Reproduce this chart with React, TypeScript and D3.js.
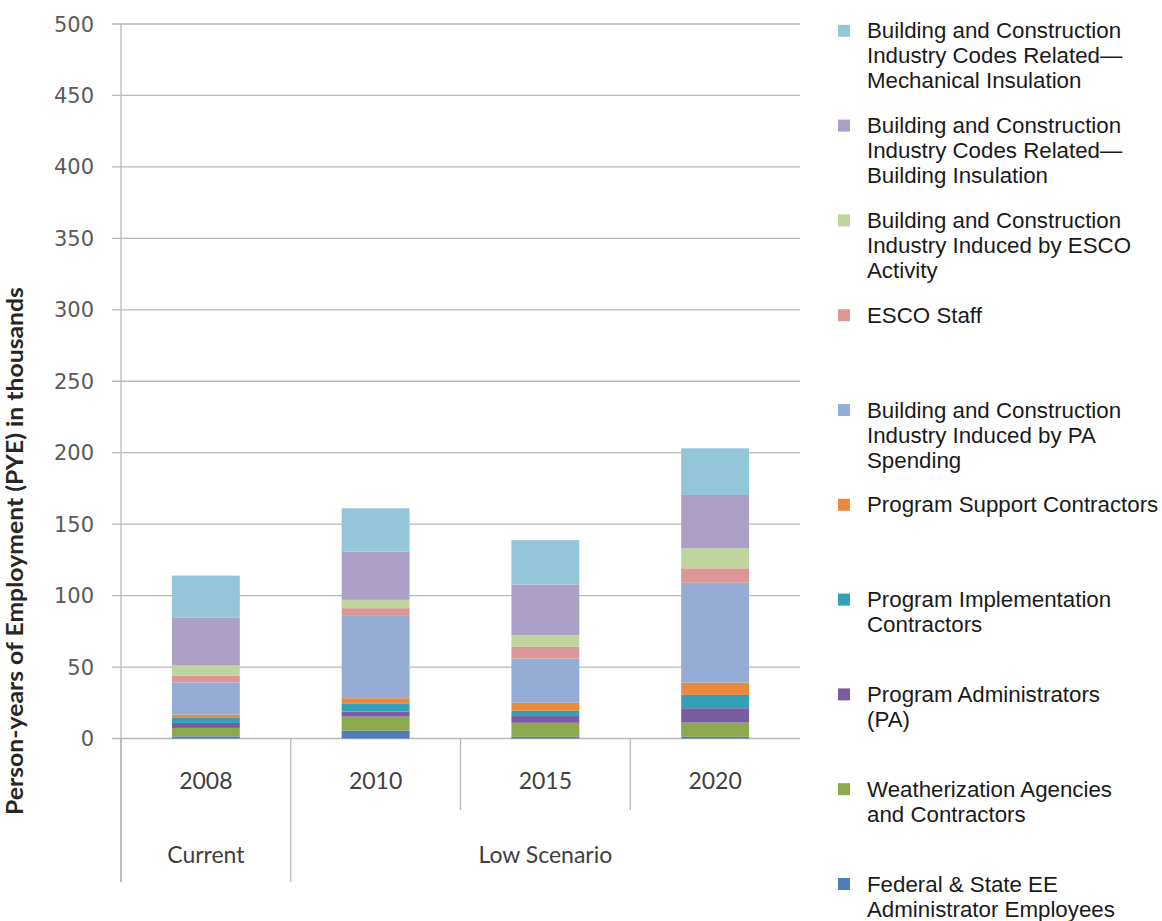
import React from "react";
import * as d3 from "d3";

const categories = ["2008", "2010", "2015", "2020"];
const groups = [
  { label: "Current", from: 0, to: 1 },
  { label: "Low Scenario", from: 1, to: 4 },
];
const yTicks = [0, 50, 100, 150, 200, 250, 300, 350, 400, 450, 500];

// series (bottom to top), values per category in thousands
const federal = [1.5, 5.5, 1.2, 1.2];
const weatherization = [5.9, 9.8, 9.8, 9.9];
const programAdmins = [3.5, 3.5, 4.7, 10.1];
const implContractors = [3.5, 5.4, 3.7, 9.3];
const supportContractors = [2.3, 4, 5.6, 8.6];
const paSpending = [22.6, 57.6, 31, 69.9];
const escoStaff = [4.7, 5.4, 8.1, 10.1];
const escoInduced = [7, 5.8, 8.2, 14];
const buildingInsulation = [33.8, 33.8, 35.5, 37.3];
const mechanicalInsulation = [29.2, 30.3, 31, 32.7];

const seriesKeys = [
  "federal",
  "weatherization",
  "programAdmins",
  "implContractors",
  "supportContractors",
  "paSpending",
  "escoStaff",
  "escoInduced",
  "buildingInsulation",
  "mechanicalInsulation",
];
const seriesValues: Record<string, number[]> = {
  federal,
  weatherization,
  programAdmins,
  implContractors,
  supportContractors,
  paSpending,
  escoStaff,
  escoInduced,
  buildingInsulation,
  mechanicalInsulation,
};
const seriesColors: Record<string, string> = {
  federal: "#4A7EBB",
  weatherization: "#8DA94E",
  programAdmins: "#7B5C9E",
  implContractors: "#33A0B8",
  supportContractors: "#E8893C",
  paSpending: "#95ACD7",
  escoStaff: "#DB9695",
  escoInduced: "#C0D59E",
  buildingInsulation: "#ADA0C7",
  mechanicalInsulation: "#94C6D9",
};
// legend top to bottom
const legendItems: { key: string; lines: string[] }[] = [
  { key: "mechanicalInsulation", lines: ["Building and Construction", "Industry Codes Related\u2014", "Mechanical Insulation"] },
  { key: "buildingInsulation", lines: ["Building and Construction", "Industry Codes Related\u2014", "Building Insulation"] },
  { key: "escoInduced", lines: ["Building and Construction", "Industry Induced by ESCO", "Activity"] },
  { key: "escoStaff", lines: ["ESCO Staff"] },
  { key: "paSpending", lines: ["Building and Construction", "Industry Induced by PA", "Spending"] },
  { key: "supportContractors", lines: ["Program Support Contractors"] },
  { key: "implContractors", lines: ["Program Implementation", "Contractors"] },
  { key: "programAdmins", lines: ["Program Administrators", "(PA)"] },
  { key: "weatherization", lines: ["Weatherization Agencies", "and Contractors"] },
  { key: "federal", lines: ["Federal & State EE", "Administrator Employees"] },
];

const W = 1162;
const H = 921;
const plotLeft = 121;
const plotRight = 800;
const yTop = 24;
const yZero = 738.5;

export default function App() {
  const x = d3
    .scaleBand<string>()
    .domain(categories)
    .range([plotLeft, plotRight])
    .paddingInner(0.6)
    .paddingOuter(0.3);
  const step = x.step();
  const y = d3.scaleLinear().domain([0, 500]).range([yZero, yTop]);

  const table = categories.map((c, i) => {
    const row: Record<string, any> = { cat: c };
    seriesKeys.forEach((k) => (row[k] = seriesValues[k][i]));
    return row;
  });
  const stacked = d3.stack<any>().keys(seriesKeys)(table);

  const gridColor = "#B8B8B8";
  const boundary = (i: number) => plotLeft + i * step;

  return (
    <svg
      width={W}
      height={H}
      style={{ position: "absolute", left: 0, top: 0, background: "#fff" }}
    >
      {/* gridlines */}
      {yTicks.map((t) => (
        <g key={t}>
          <line
            x1={plotLeft - 9}
            x2={plotRight}
            y1={y(t)}
            y2={y(t)}
            stroke={gridColor}
            strokeWidth={1.3}
          />
          <text
            x={94}
            y={y(t)}
            dy="0.36em"
            textAnchor="end"
            fontFamily="'DejaVu Sans', sans-serif"
            fontSize={21}
            fill="#5A5A5A"
          >
            {t}
          </text>
        </g>
      ))}
      {/* y axis line */}
      <line x1={plotLeft} x2={plotLeft} y1={yTop} y2={882} stroke={gridColor} strokeWidth={1.3} />

      {/* bars */}
      {stacked.map((s) => (
        <g key={s.key} fill={seriesColors[s.key]}>
          {s.map((d, i) => (
            <rect
              key={i}
              x={x(categories[i])}
              width={x.bandwidth()}
              y={y(d[1])}
              height={Math.max(0, y(d[0]) - y(d[1]))}
            />
          ))}
        </g>
      ))}

      {/* category axis separators */}
      {[0, 1, 2, 3].map((i) => {
        const isGroupEdge = groups.some((g) => g.from === i);
        return (
          <line
            key={i}
            x1={boundary(i)}
            x2={boundary(i)}
            y1={yZero}
            y2={isGroupEdge ? 882 : 810}
            stroke={gridColor}
            strokeWidth={1.3}
          />
        );
      })}

      {/* year labels */}
      {categories.map((c) => (
        <text
          key={c}
          x={(x(c) as number) + x.bandwidth() / 2}
          y={781}
          dy="0.36em"
          textAnchor="middle"
          fontFamily="Lato, sans-serif"
          fontSize={23}
          fill="#404040"
        >
          {c}
        </text>
      ))}
      {groups.map((g) => (
        <text
          key={g.label}
          x={(boundary(g.from) + boundary(g.to)) / 2}
          y={855}
          dy="0.36em"
          textAnchor="middle"
          fontFamily="Lato, sans-serif"
          fontSize={23}
          fill="#404040"
        >
          {g.label}
        </text>
      ))}

      {/* y axis title */}
      <text
        transform="translate(23,551) rotate(-90)"
        textAnchor="middle"
        fontFamily="Lato, sans-serif"
        fontWeight="bold"
        fontSize={22}
        fill="#262626"
        textLength={528}
        lengthAdjust="spacingAndGlyphs"
      >
        Person-years of Employment (PYE) in thousands
      </text>

      {/* legend */}
      {legendItems.map((item, i) => {
        const base = 38.3 + i * 94.8;
        return (
          <g key={item.key}>
            <rect x={838} y={base - 13.5} width={12} height={12} fill={seriesColors[item.key]} />
            {item.lines.map((ln, j) => (
              <text
                key={j}
                x={867}
                y={base + j * 25}
                fontFamily="'Liberation Sans', Arial, sans-serif"
                fontSize={22.3}
                fill="#1A1A1A"
              >
                {ln}
              </text>
            ))}
          </g>
        );
      })}
    </svg>
  );
}
